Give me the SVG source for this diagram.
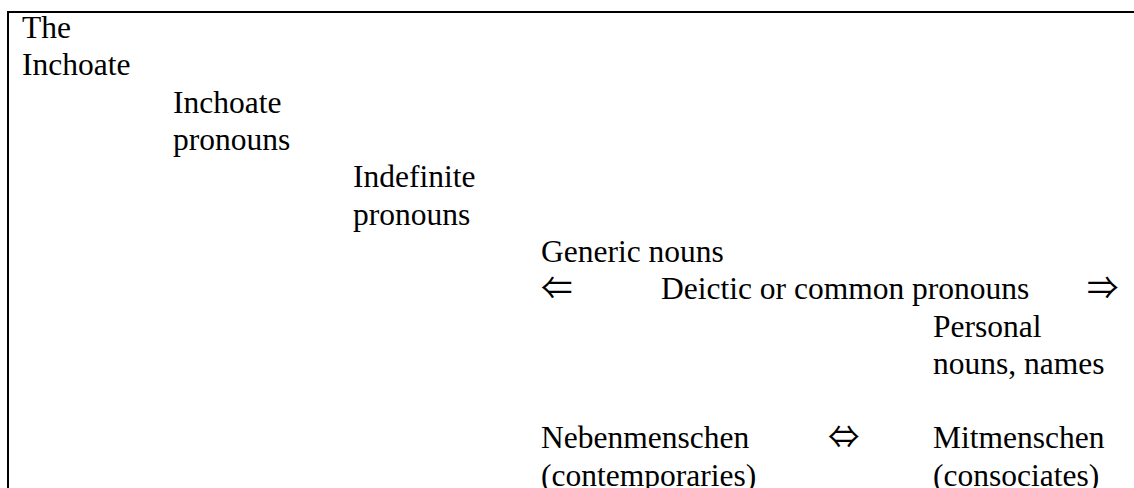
<svg xmlns="http://www.w3.org/2000/svg" width="1134" height="488" viewBox="0 0 1134 488">
  <style>
    text { font-family: "Liberation Serif", Tinos, "Times New Roman", "DejaVu Serif", serif; font-size: 31.5px; fill: #000; }
    text.sym { font-family: "Noto Sans CJK JP", "DejaVu Sans", sans-serif; font-size: 31.5px; }
    .rule { stroke: #000; stroke-width: 2; fill: none; }
  </style>
  <rect width="1134" height="488" fill="#fff"/>

  <!-- table frame: top and left rules -->
  <g id="frame">
    <line class="rule" x1="7" y1="12" x2="1134" y2="12"/>
    <line class="rule" x1="8" y1="11" x2="8" y2="488"/>
  </g>

  <g id="the-inchoate">
    <text x="22" y="38">The</text>
    <text x="22" y="75">Inchoate</text>
  </g>
  <g id="inchoate-pronouns">
    <text x="173" y="112.5">Inchoate</text>
    <text x="173" y="150">pronouns</text>
  </g>
  <g id="indefinite-pronouns">
    <text x="353" y="187">Indefinite</text>
    <text x="353" y="224.5">pronouns</text>
  </g>
  <g id="generic-nouns">
    <text x="541" y="262">Generic nouns</text>
  </g>
  <g id="deictic-pronouns">
    <text x="661" y="299">Deictic or common pronouns</text>
  </g>
  <g id="personal-nouns">
    <text x="933" y="336.5">Personal</text>
    <text x="933" y="373.5">nouns, names</text>
  </g>
  <g id="nebenmenschen">
    <text x="541" y="448">Nebenmenschen</text>
    <text x="541" y="485.5">(contemporaries)</text>
  </g>
  <g id="mitmenschen">
    <text x="933" y="448">Mitmenschen</text>
    <text x="933" y="485.5">(consociates)</text>
  </g>

  <!-- directional symbols -->
  <g id="connectors">
    <text class="sym" x="541" y="299">⇐</text>
    <text class="sym" x="1087" y="299">⇒</text>
    <text class="sym" x="828" y="448">⇔</text>
  </g>
</svg>
